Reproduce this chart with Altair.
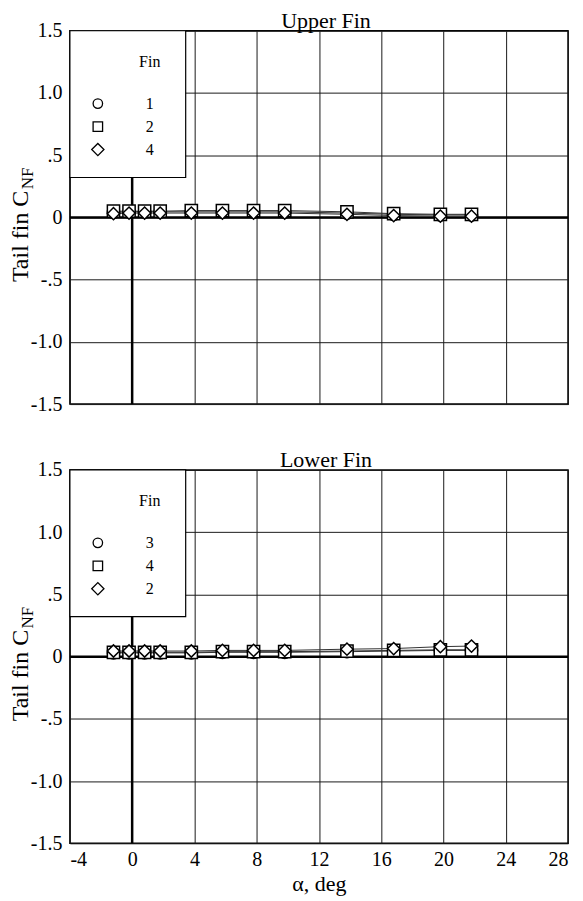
import altair as alt
import pandas as pd

# ---------------- data ----------------
alpha = [-1.2, -0.2, 0.8, 1.8, 3.8, 5.8, 7.8, 9.8, 13.8, 16.8, 19.8, 21.8]

upper_title = "Upper Fin"
upper_fins = ["1", "2", "4"]
upper_fin_a = [0.040, 0.045, 0.045, 0.045, 0.045, 0.045, 0.045, 0.045, 0.035, 0.025, 0.020, 0.020]
upper_fin_b = [0.050, 0.050, 0.050, 0.050, 0.055, 0.055, 0.055, 0.055, 0.045, 0.030, 0.025, 0.025]
upper_fin_c = [0.030, 0.035, 0.035, 0.035, 0.035, 0.035, 0.035, 0.035, 0.025, 0.015, 0.010, 0.010]

lower_title = "Lower Fin"
lower_fins = ["3", "4", "2"]
lower_fin_a = [0.030, 0.030, 0.030, 0.030, 0.030, 0.035, 0.035, 0.035, 0.040, 0.045, 0.050, 0.050]
lower_fin_b = [0.035, 0.035, 0.035, 0.035, 0.035, 0.040, 0.040, 0.040, 0.045, 0.050, 0.055, 0.055]
lower_fin_c = [0.045, 0.045, 0.045, 0.045, 0.045, 0.050, 0.050, 0.050, 0.060, 0.065, 0.080, 0.085]

shapes = ["circle", "square", "diamond"]
x_ticks = [-4, 0, 4, 8, 12, 16, 20, 24, 28]
x_tick_labels = ["-4", "0", "4", "8", "12", "16", "20", "24", "28"]
y_ticks = [-1.5, -1.0, -0.5, 0, 0.5, 1.0, 1.5]
y_tick_labels = ["-1.5", "-1.0", "-.5", "0", ".5", "1.0", "1.5"]
x_title = "α, deg"
y_title_main = "Tail fin C"
y_title_sub = "NF"
legend_title = "Fin"

FONT = "Liberation Serif"
W, H = 499, 374
TICK_FS = 20
TITLE_FS = 22


def label_expr(values, labels):
    expr = "''"
    for v, l in reversed(list(zip(values, labels))):
        expr = f"(abs(datum.value - ({v})) < 0.001) ? '{l}' : ({expr})"
    return expr


one = pd.DataFrame({"k": [0]})


def panel(title, fins, series, show_x):
    rows = []
    for i, (fin, vals) in enumerate(zip(fins, series)):
        for a, c in zip(alpha, vals):
            rows.append({"alpha": a, "cnf": c, "fin": fin, "sym": f"s{i}"})
    df = pd.DataFrame(rows)

    common_axis = dict(grid=True, gridColor="#1a1a1a", gridWidth=1, gridOpacity=1,
                       domain=False, ticks=False)
    if show_x:
        x_axis = alt.Axis(values=x_ticks, labelExpr=label_expr(x_ticks, x_tick_labels),
                          labelFont=FONT, labelFontSize=TICK_FS, labelColor="black",
                          labelPadding=6, title=x_title, titleFont=FONT,
                          titleFontSize=TITLE_FS, titleFontWeight="normal", titleColor="black",
                          titlePadding=4, **common_axis)
    else:
        x_axis = alt.Axis(values=x_ticks, labels=False, title="", **common_axis)
    y_axis = alt.Axis(values=y_ticks, labelExpr=label_expr(y_ticks, y_tick_labels),
                      labelFont=FONT, labelFontSize=TICK_FS, labelColor="black",
                      labelPadding=8, title="", **common_axis)

    base = alt.Chart(df).encode(
        x=alt.X("alpha:Q", scale=alt.Scale(domain=[-4, 28], nice=False, zero=False), axis=x_axis),
        y=alt.Y("cnf:Q", scale=alt.Scale(domain=[-1.5, 1.5], nice=False, zero=False), axis=y_axis),
    )
    lines = base.mark_line(color="#333333", strokeWidth=1).encode(detail="fin:N")
    points = base.mark_point(fill="white", fillOpacity=1, stroke="black", strokeWidth=1.5,
                             size=150, opacity=1).encode(
        shape=alt.Shape("sym:N", scale=alt.Scale(domain=["s0", "s1", "s2"], range=shapes),
                        legend=None))

    zero_h = alt.Chart(one).mark_rule(color="black", strokeWidth=2.5).encode(y=alt.datum(0))
    zero_v = alt.Chart(one).mark_rule(color="black", strokeWidth=2.5).encode(x=alt.datum(0))

    box = alt.Chart(one).mark_rect(fill="white", stroke="black", strokeWidth=1.2).encode(
        x=alt.value(0), x2=alt.value(116), y=alt.value(0), y2=alt.value(147))
    leg_title = alt.Chart(one).mark_text(text=legend_title, font=FONT, fontSize=16,
                                         color="black", align="center", baseline="middle").encode(
        x=alt.value(80), y=alt.value(31))
    leg_items = []
    for i, fin in enumerate(fins):
        yy = 73 + 23 * i
        sz = 150 if shapes[i] == "diamond" else 90
        leg_items.append(alt.Chart(one).mark_point(shape=shapes[i], size=sz, fill="white",
                                                   fillOpacity=1, stroke="black",
                                                   strokeWidth=1.3).encode(
            x=alt.value(28), y=alt.value(yy)))
        leg_items.append(alt.Chart(one).mark_text(text=fin, font=FONT, fontSize=16,
                                                  color="black", align="center",
                                                  baseline="middle").encode(
            x=alt.value(80), y=alt.value(yy)))

    ytitle = alt.Chart(one).mark_text(text=y_title_main, angle=270, font=FONT, fontSize=24,
                                      color="black", align="center",
                                      baseline="alphabetic").encode(
        x=alt.value(-42), y=alt.value(206))
    ysub = alt.Chart(one).mark_text(text=y_title_sub, angle=270, font=FONT, fontSize=17,
                                    color="black", align="center",
                                    baseline="alphabetic").encode(
        x=alt.value(-37), y=alt.value(148))

    return alt.layer(zero_h, zero_v, lines, points, box, leg_title, *leg_items,
                     ytitle, ysub).properties(
        width=W, height=H,
        title=alt.TitleParams(title, font=FONT, fontSize=TITLE_FS, fontWeight="normal",
                              color="black", anchor="middle", dx=7, offset=-12),
    )


upper = panel(upper_title, upper_fins, [upper_fin_a, upper_fin_b, upper_fin_c], False)
lower = panel(lower_title, lower_fins, [lower_fin_a, lower_fin_b, lower_fin_c], True)

chart = alt.vconcat(upper, lower, spacing=33).properties(
    padding={"left": 0, "top": 0, "right": 5, "bottom": 0}
).configure_view(stroke="black", strokeWidth=1.5)

chart.save("out.html", embed_options={"renderer": "svg", "actions": False})
